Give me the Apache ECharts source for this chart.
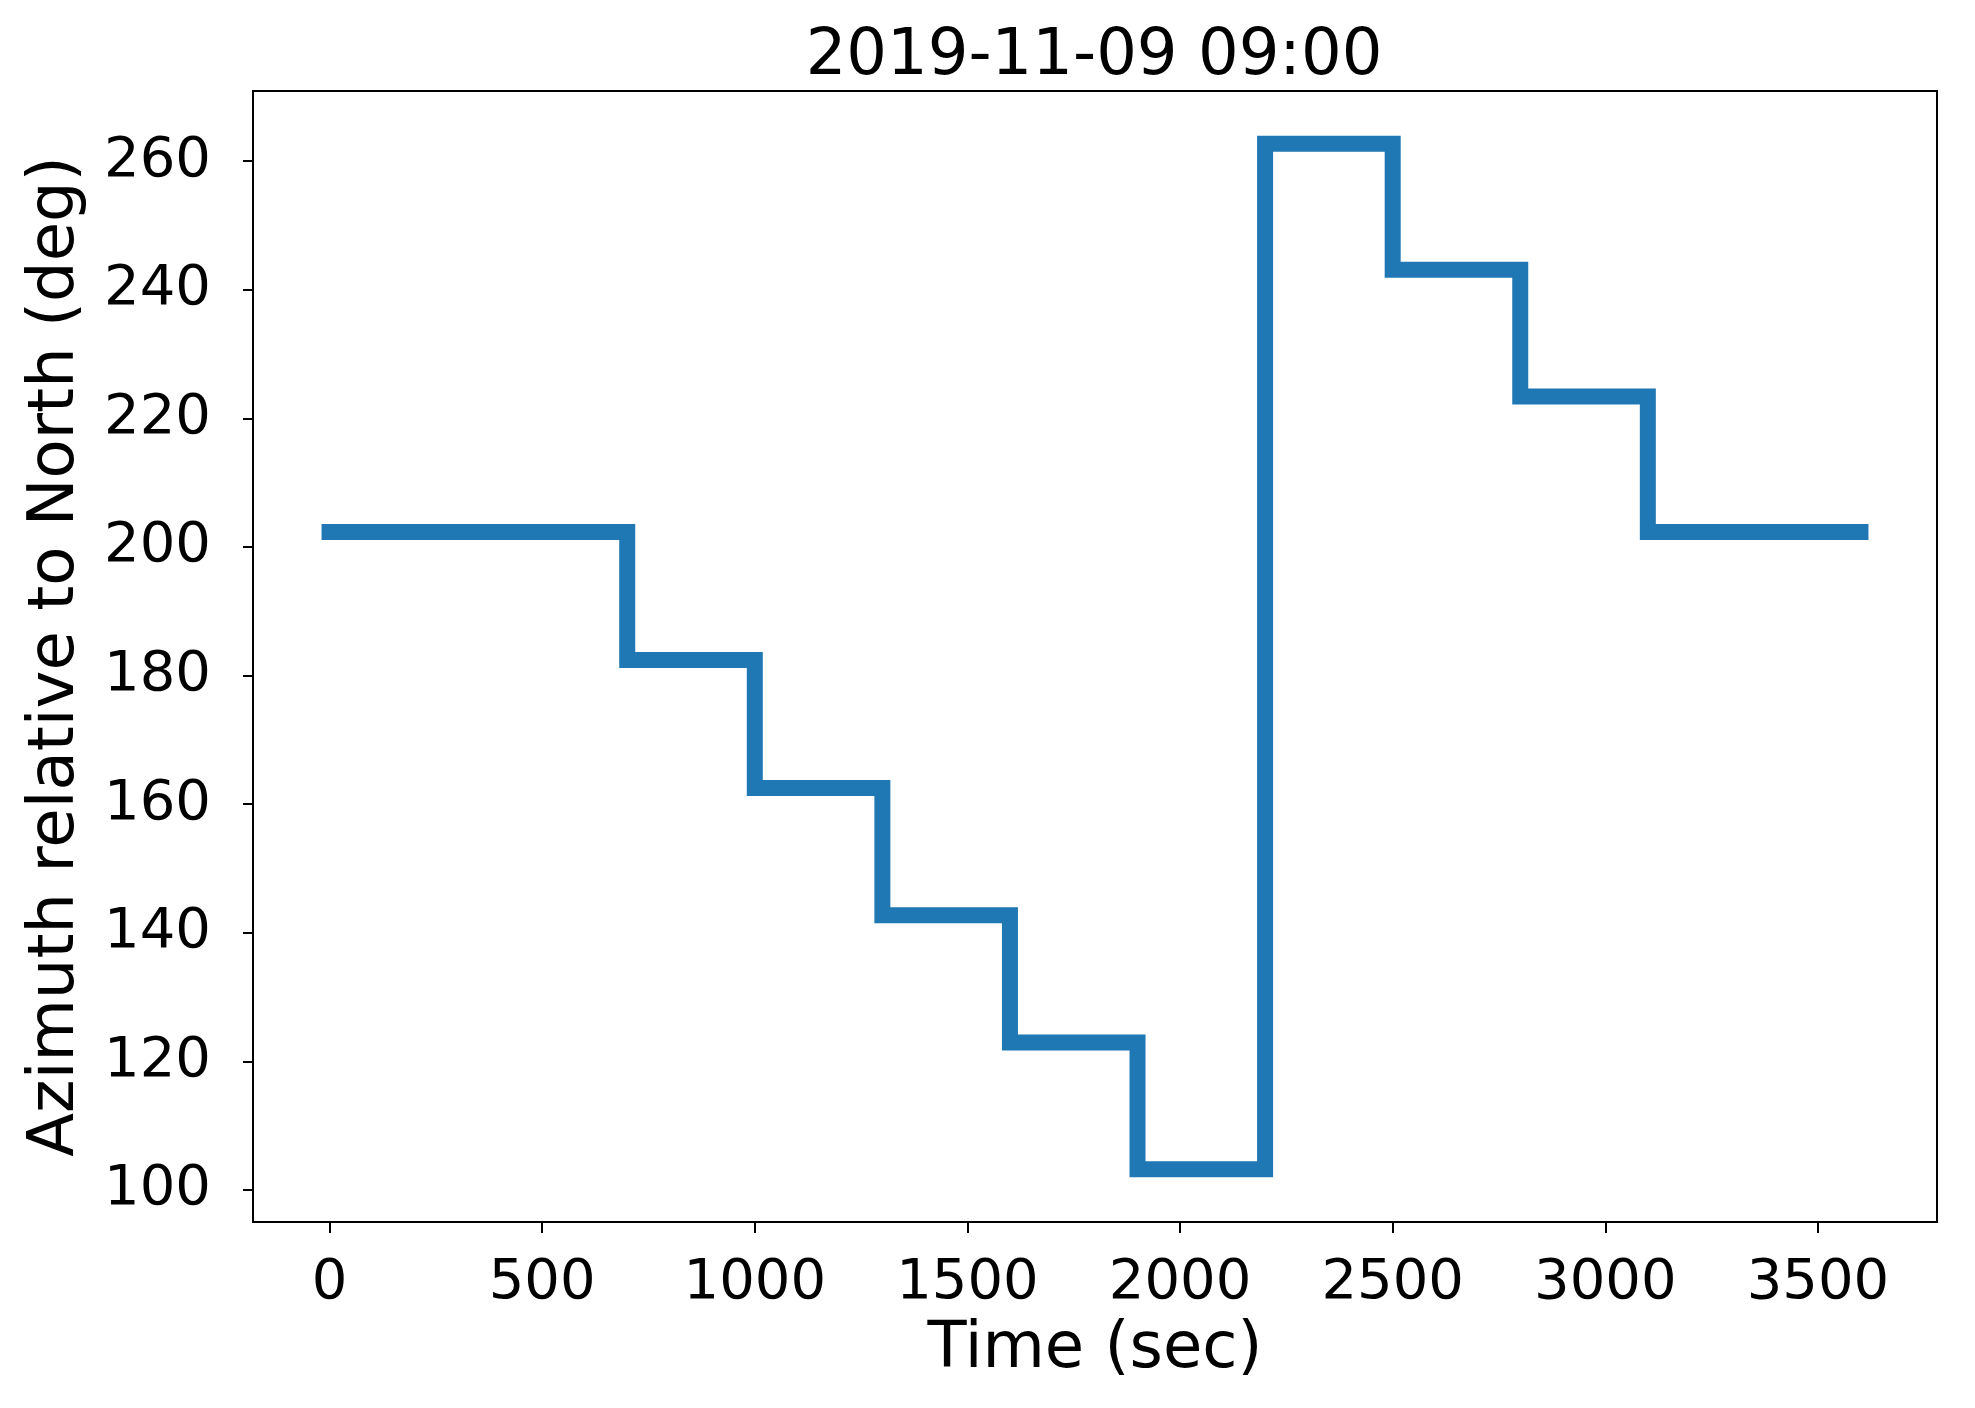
<!DOCTYPE html>
<html>
<head>
<meta charset="utf-8">
<title>Azimuth</title>
<script src="https://cdn.jsdelivr.net/npm/echarts@6/dist/echarts.min.js"></script>
<style>
  html, body { margin: 0; padding: 0; background: #fff; }
  #root { width: 1975px; height: 1408px; }
</style>
</head>
<body>
<div id="root"></div>
<script>
// segment boundaries (sec)
var switchTimes = [0, 700, 1000, 1300, 1600, 1900, 2200, 2500, 2800, 3100, 3600];
// azimuth held on each segment (deg)
var azimuthLevels = [202.3, 182.4, 162.5, 142.7, 122.9, 103.2, 262.7, 243.1, 223.4, 202.3];
// tick labels
var xTicks = [0, 500, 1000, 1500, 2000, 2500, 3000, 3500];
var yTicks = [100, 120, 140, 160, 180, 200, 220, 240, 260];

var titleText = '2019-11-09 09:00';
var FONT = 'DejaVu Sans';
var BLUE = '#1f77b4';

// build the stepped path: each level runs from its start to its end time
function buildData() {
    var pts = [];
    for (var i = 0; i < azimuthLevels.length; i++) {
        pts.push([switchTimes[i], azimuthLevels[i]]);
        pts.push([switchTimes[i + 1], azimuthLevels[i]]);
    }
    return pts;
}

// plain numbers, no thousands separator
function plain(v) {
    return String(v);
}

function initChart() {
    var myChart = echarts.init(document.getElementById('root'), null, { renderer: 'canvas' });
    var axisStyle = { color: '#000', width: 2 };
    var option = {
        animation: false,
        backgroundColor: '#fff',
        title: {
            text: titleText,
            left: 1089,
            textAlign: 'center',
            top: 20,
            textStyle: { fontFamily: FONT, fontSize: 64, fontWeight: 'normal', color: '#000' }
        },
        grid: {
            left: 253, top: 91, right: 38, bottom: 186,
            show: true, borderColor: '#000', borderWidth: 2, backgroundColor: 'transparent'
        },
        xAxis: {
            type: 'value',
            min: -180, max: 3780,
            name: 'Time (sec)',
            nameLocation: 'middle',
            nameGap: 96,
            nameTextStyle: { fontFamily: FONT, fontSize: 64, color: '#000' },
            splitLine: { show: false },
            axisLine: { show: true, onZero: false, lineStyle: axisStyle },
            axisTick: { show: true, length: 11, lineStyle: axisStyle, customValues: xTicks },
            axisLabel: { fontFamily: FONT, fontSize: 56, color: '#000', margin: 33, customValues: xTicks, formatter: plain }
        },
        yAxis: {
            type: 'value',
            min: 95, max: 270.9,
            name: 'Azimuth relative to North (deg)',
            nameLocation: 'middle',
            nameGap: 165,
            nameTextStyle: { fontFamily: FONT, fontSize: 64, color: '#000' },
            splitLine: { show: false },
            axisLine: { show: true, onZero: false, lineStyle: axisStyle },
            axisTick: { show: true, length: 10, lineStyle: axisStyle, customValues: yTicks },
            axisLabel: { fontFamily: FONT, fontSize: 56, color: '#000', margin: 42, customValues: yTicks, formatter: plain }
        },
        series: [{
            type: 'line',
            data: buildData(),
            showSymbol: false,
            lineStyle: { color: BLUE, width: 16, cap: 'square', join: 'miter' }
        }]
    };
    myChart.setOption(option);
}

initChart();
</script>
</body>
</html>
